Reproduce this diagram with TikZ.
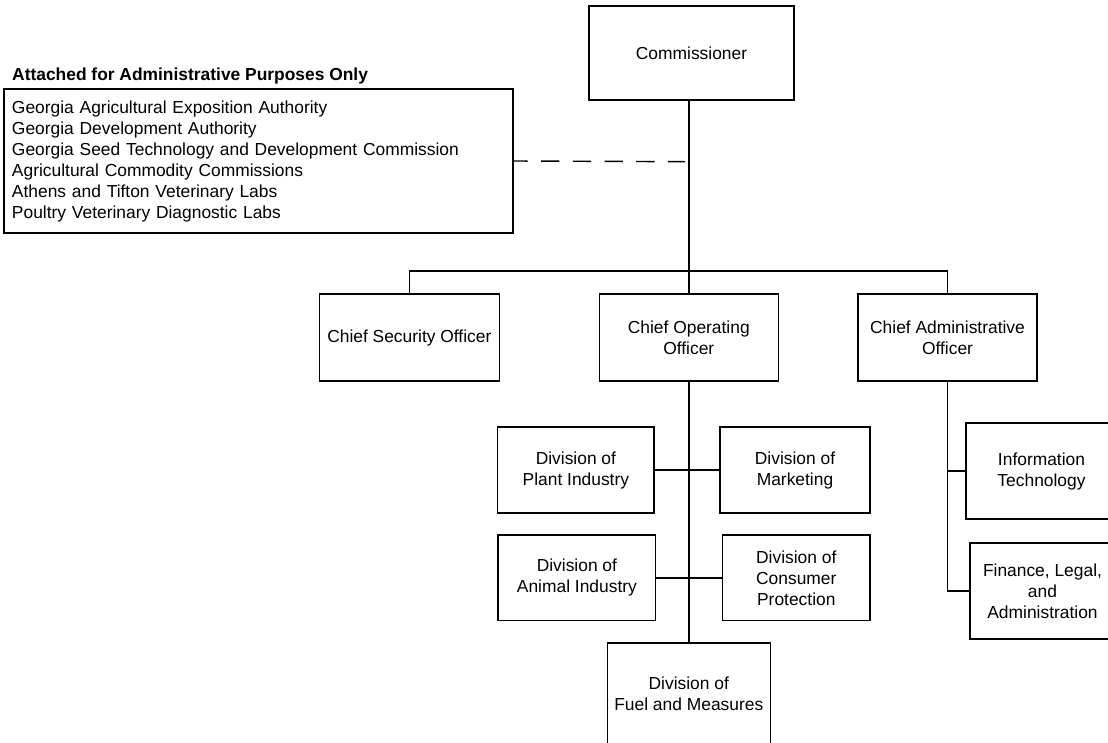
\documentclass[tikz,border=0pt]{standalone}
\usepackage{fontspec}
\setmainfont{Liberation Sans}
\begin{document}
\begin{tikzpicture}[x=1pt,y=-1pt,
  every node/.style={font=\fontsize{17.4}{21}\selectfont},
  orgbox/.style={draw=black,line width=1.4pt,align=center,inner sep=0pt},
  link/.style={draw=black,line width=1.4pt},
  dashlink/.style={draw=black,line width=1.4pt,dash pattern=on 18.3pt off 13.4pt,dash phase=4.3pt}]
\useasboundingbox (0,0) rectangle (1108,742);
\clip (0,0) rectangle (1108,742);
% title and attached list
\node[anchor=west,inner sep=0pt,font=\fontsize{17.4}{21}\selectfont\bfseries] (title) at (12,76) {Attached for Administrative Purposes Only};
\node[draw=black,line width=1.4pt,minimum width=509pt,minimum height=144pt,text width=493pt,align=left,inner sep=8pt] (att) at (258.5,161)
 {Georgia Agricultural Exposition Authority\\Georgia Development Authority\\Georgia Seed Technology and Development Commission\\Agricultural Commodity Commissions\\Athens and Tifton Veterinary Labs\\Poultry Veterinary Diagnostic Labs};
% main boxes
\node[orgbox,minimum width=205pt,minimum height=94pt] (comm) at (691.5,53) {Commissioner};
\node[orgbox,minimum width=180pt,minimum height=87pt] (cso) at (409.3,337.5) {Chief Security Officer};
\node[orgbox,minimum width=179pt,minimum height=87pt] (coo) at (688.8,337.5) {Chief Operating\\Officer};
\node[orgbox,minimum width=179pt,minimum height=87pt] (cao) at (947.5,337.5) {Chief Administrative\\Officer};
% divisions
\node[orgbox,minimum width=156.3pt,minimum height=86pt] (plant) at (575.9,470) {Division of\\Plant Industry};
\node[orgbox,minimum width=150pt,minimum height=86pt] (mkt) at (795,470) {Division of\\Marketing};
\node[orgbox,minimum width=157.7pt,minimum height=85.7pt] (animal) at (576.9,577.9) {Division of\\Animal Industry};
\node[orgbox,minimum width=147.3pt,minimum height=85.7pt] (cons) at (796.3,577.9) {Division of\\Consumer\\Protection};
\node[orgbox,minimum width=163pt,minimum height=102pt] (fuel) at (688.8,694) {Division of\\Fuel and Measures};
% admin units
\node[orgbox,minimum width=151pt,minimum height=96pt] (it) at (1041.5,471) {Information\\Technology};
\node[orgbox,minimum width=145pt,minimum height=96pt] (fin) at (1042.5,591) {Finance, Legal,\\and\\Administration};
% connectors
\coordinate (bar) at (688.8,271);
\coordinate (dashend) at (685,161.7);
\draw[link] (comm.south -| coo.north) -- (coo.north);
\draw[link] (cso.north) |- (bar) -| (cao.north);
\draw[dashlink] (att.east) -- (dashend);
\draw[link] (coo.south) -- (fuel.north);
\draw[link] (plant.east) -- (mkt.west);
\draw[link] (animal.east) -- (cons.west);
\draw[link] (cao.south) |- (fin.west);
\draw[link] (cao.south |- it.west) -- (it.west);
\end{tikzpicture}
\end{document}
